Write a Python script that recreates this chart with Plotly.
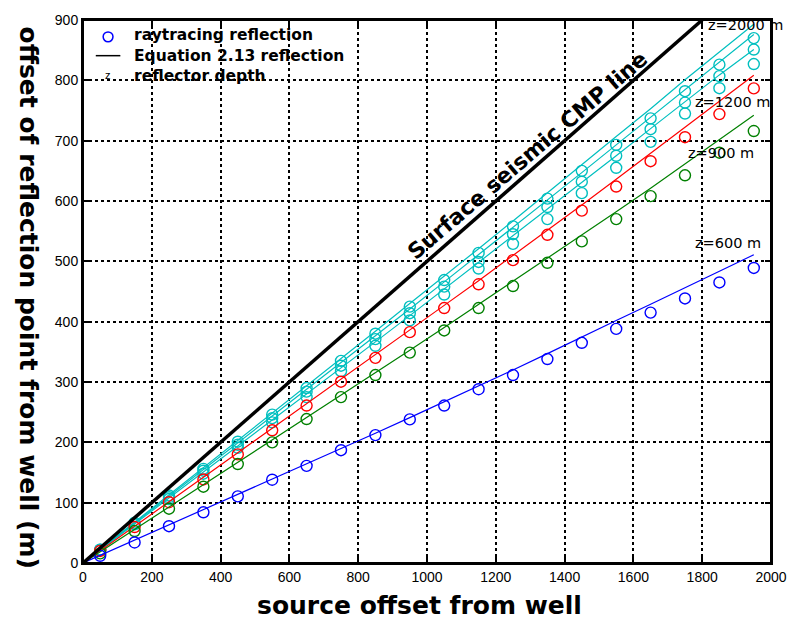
import plotly.graph_objects as go

# Source offsets of the ray-traced reflections (m)
src_offset = [50, 150, 250, 350, 450, 550, 650, 750, 850, 950,
              1050, 1150, 1250, 1350, 1450, 1550, 1650, 1750, 1850, 1950]
# Offsets used for the analytic (Equation 2.13) curves
eq_offset = [0] + src_offset

# Ray-tracing reflection points (m)
ray_600 = [12, 34, 61, 84, 110.5, 138, 161, 187, 212, 238,
           261, 288, 311.5, 338, 365, 388, 415, 438.5, 465, 489]
ray_900 = [16, 53, 90, 126.5, 164, 200, 238.6, 275, 311.5, 348.7,
           385.4, 422.6, 459, 497.6, 533, 570, 608, 642.6, 680, 716]
ray_1200 = [20, 59.6, 100.7, 138.5, 180, 220, 261, 300.5, 340, 382.6,
            422.6, 462, 502, 544, 584, 624, 666, 705.7, 744, 786.6]
ray_c1 = [21, 64, 106, 148, 191, 233, 275, 318, 360, 402,
          445, 488, 529, 570, 613, 655, 698, 745, 787, 827]
ray_c2 = [22, 65, 109, 153, 196, 240, 284, 327, 371, 414,
          458, 499, 545, 590, 632, 675, 719, 763, 807, 851]
ray_c3 = [22, 67, 112, 156, 201, 246, 290, 335, 380, 425,
          469, 514, 558, 604, 650, 693, 737, 782, 826, 870]

# Equation 2.13 reflection points (m)
eq_600 = [0, 12.6, 38, 63, 88.5, 114, 139, 164.5, 190, 215, 241,
          267, 293, 320, 347, 375, 402, 429, 456, 483.5, 511]
eq_900 = [0, 18.5, 55.5, 92.5, 129.5, 166.5, 203.5, 240.5, 277.5, 314.5, 352.5,
          390.5, 428.5, 466.5, 504.5, 543, 582, 621, 661, 701, 742]
eq_1200 = [0, 20, 61, 101.5, 142, 182.5, 223, 263.5, 304, 345, 386,
           427, 468, 509.5, 551, 593.5, 636, 679, 722, 765, 808.5]
eq_c1 = [0, 21.5, 64.5, 107.5, 150.5, 193.5, 236.5, 280, 323, 366.5, 410,
         454, 498, 542, 586, 630, 675, 720, 765, 809, 851]
eq_c2 = [0, 22, 66, 110.5, 155, 199, 243.5, 288, 332, 376.5, 421,
         466, 511, 556, 602, 647, 693, 739, 785, 831, 876]
eq_c3 = [0, 22.5, 68, 113.5, 158, 203.5, 249, 293.5, 339, 384, 430,
         475, 521, 567, 614, 661, 707, 753, 801, 847, 893]

# Surface seismic CMP line (midpoint = half the source offset)
cmp_x = [0, 1800]
cmp_y = [0, 900]

# Depth labels: (text, x, y)
depth_labels = [("z=2000 m", 1812, 891), ("z=1200 m", 1772, 764),
                ("z=900 m", 1752, 679), ("z=600 m", 1774, 530)]

x_ticks = [0, 200, 400, 600, 800, 1000, 1200, 1400, 1600, 1800, 2000]
y_ticks = [0, 100, 200, 300, 400, 500, 600, 700, 800, 900]

BLUE, GREEN, RED, CYAN = "#0000ff", "#008000", "#ff0000", "#00bfbf"

series = [
    (ray_c3, eq_c3, CYAN), (ray_c2, eq_c2, CYAN), (ray_c1, eq_c1, CYAN),
    (ray_1200, eq_1200, RED), (ray_900, eq_900, GREEN), (ray_600, eq_600, BLUE),
]

fig = go.Figure()
for ray, eq, col in series:
    fig.add_trace(go.Scatter(x=src_offset, y=ray, mode="markers", showlegend=False,
                             marker=dict(symbol="circle-open", size=11, color=col,
                                         line=dict(width=1.4, color=col))))
    fig.add_trace(go.Scatter(x=eq_offset, y=eq, mode="lines", showlegend=False,
                             line=dict(color=col, width=1.2)))

fig.add_trace(go.Scatter(x=cmp_x, y=cmp_y, mode="lines", showlegend=False,
                         line=dict(color="black", width=3.5)))

annotations = []
for txt, xv, yv in depth_labels:
    annotations.append(dict(x=xv, y=yv, xref="x", yref="y", text=txt, showarrow=False,
                            xanchor="left", yanchor="middle",
                            font=dict(family="DejaVu Sans", size=14.5, color="black")))

annotations.append(dict(x=1291, y=676, xref="x", yref="y", text="<b>Surface seismic CMP line</b>",
                        showarrow=False, textangle=-40.5,
                        font=dict(family="DejaVu Sans", size=21.8, color="black")))

# Legend block (top-left of the axes)
W, H, L, B = 700.0, 548.0, 83.0, 563.0
def px(xp):
    return (xp - L) / W
def py(yp):
    return (B - yp) / H

leg_font = dict(family="DejaVu Sans", size=15.5, color="black")
for txt, yp in [("raytracing reflection", 30.5), ("Equation 2.13 reflection", 51),
                ("reflector depth", 71.5)]:
    annotations.append(dict(x=px(133), y=py(yp), xref="paper", yref="paper",
                            text="<b>%s</b>" % txt, showarrow=False,
                            xanchor="left", yanchor="middle", font=leg_font))
annotations.append(dict(x=px(108), y=py(71), xref="paper", yref="paper", text="z",
                        showarrow=False, xanchor="center", yanchor="middle",
                        font=dict(family="Liberation Sans", size=11, color="black")))

shapes = [
    dict(type="circle", xref="paper", yref="paper", x0=px(103.5), x1=px(113.5),
         y0=py(27), y1=py(37), line=dict(color=BLUE, width=1.5)),
    dict(type="line", xref="paper", yref="paper", x0=px(96), x1=px(121),
         y0=py(51), y1=py(51), line=dict(color="black", width=1.5)),
    # axes frame
    dict(type="rect", xref="paper", yref="paper", x0=0, x1=1, y0=0, y1=1,
         line=dict(color="black", width=2), layer="above"),
]

# Axis titles
annotations.append(dict(x=px(425), y=py(606), xref="paper", yref="paper",
                        text="<b>source offset from well</b>", showarrow=False,
                        xanchor="center", yanchor="middle",
                        font=dict(family="DejaVu Sans", size=25, color="black")))
annotations.append(dict(x=px(28), y=py(295), xref="paper", yref="paper",
                        text="<b>offset of reflection point from well (m)</b>", showarrow=False,
                        textangle=90, xanchor="center", yanchor="middle",
                        font=dict(family="DejaVu Sans", size=25, color="black")))

axis_common = dict(showline=True, linecolor="black", linewidth=2, mirror="ticks",
                   ticks="inside", ticklen=6, tickwidth=1.5, tickcolor="black",
                   showgrid=True, gridcolor="black", gridwidth=1.5, griddash="dot",
                   zeroline=False, tickfont=dict(family="Liberation Sans", size=14, color="black"))

fig.update_xaxes(range=[0, 2000], tickvals=x_ticks, **axis_common)
fig.update_yaxes(range=[0, 900], tickvals=y_ticks, **axis_common)

fig.update_layout(width=799, height=622, margin=dict(l=83, r=16, t=15, b=59),
                  plot_bgcolor="white", paper_bgcolor="white",
                  annotations=annotations, shapes=shapes, showlegend=False)

fig.write_html("out.html")
